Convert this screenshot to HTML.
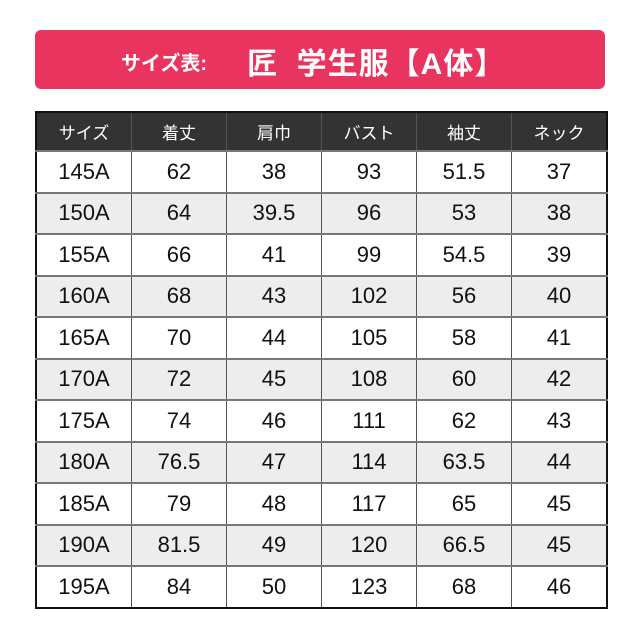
<!DOCTYPE html>
<html><head><meta charset="utf-8"><style>
body{margin:0;width:640px;height:640px;background:#fff;position:relative;overflow:hidden;font-family:"Liberation Sans","Noto Sans CJK JP",sans-serif}
.ban{position:absolute;left:35px;top:30px;width:570px;height:59px;background:#e8345f;border-radius:6px;color:#fff;font-weight:bold}
.ban .a{position:absolute;left:86px;top:17px;font-size:20px}
.ban .b{position:absolute;left:212px;top:9px;font-size:30px;letter-spacing:1px}
table{position:absolute;left:35px;top:111px;border-collapse:collapse;border:2px solid #111}
td,th{width:94px;text-align:center;border-left:1px solid #555;border-right:1px solid #555;padding:0}
th{background:#333;color:#fff;font-weight:normal;font-size:17px;height:37px}
td{height:39.5px;font-size:22px;color:#111;border-top:2px solid #777}
tr:nth-child(odd) td{background:#eeeded}
</style></head><body>
<div class="ban"><span class="a">サイズ表:</span><span class="b">匠&nbsp; 学生服【A体】</span></div>
<table>
<tr><th>サイズ</th><th>着丈</th><th>肩巾</th><th>バスト</th><th>袖丈</th><th>ネック</th></tr>
<tr><td>145A</td><td>62</td><td>38</td><td>93</td><td>51.5</td><td>37</td></tr>
<tr><td>150A</td><td>64</td><td>39.5</td><td>96</td><td>53</td><td>38</td></tr>
<tr><td>155A</td><td>66</td><td>41</td><td>99</td><td>54.5</td><td>39</td></tr>
<tr><td>160A</td><td>68</td><td>43</td><td>102</td><td>56</td><td>40</td></tr>
<tr><td>165A</td><td>70</td><td>44</td><td>105</td><td>58</td><td>41</td></tr>
<tr><td>170A</td><td>72</td><td>45</td><td>108</td><td>60</td><td>42</td></tr>
<tr><td>175A</td><td>74</td><td>46</td><td>111</td><td>62</td><td>43</td></tr>
<tr><td>180A</td><td>76.5</td><td>47</td><td>114</td><td>63.5</td><td>44</td></tr>
<tr><td>185A</td><td>79</td><td>48</td><td>117</td><td>65</td><td>45</td></tr>
<tr><td>190A</td><td>81.5</td><td>49</td><td>120</td><td>66.5</td><td>45</td></tr>
<tr><td>195A</td><td>84</td><td>50</td><td>123</td><td>68</td><td>46</td></tr>
</table>
</body></html>
